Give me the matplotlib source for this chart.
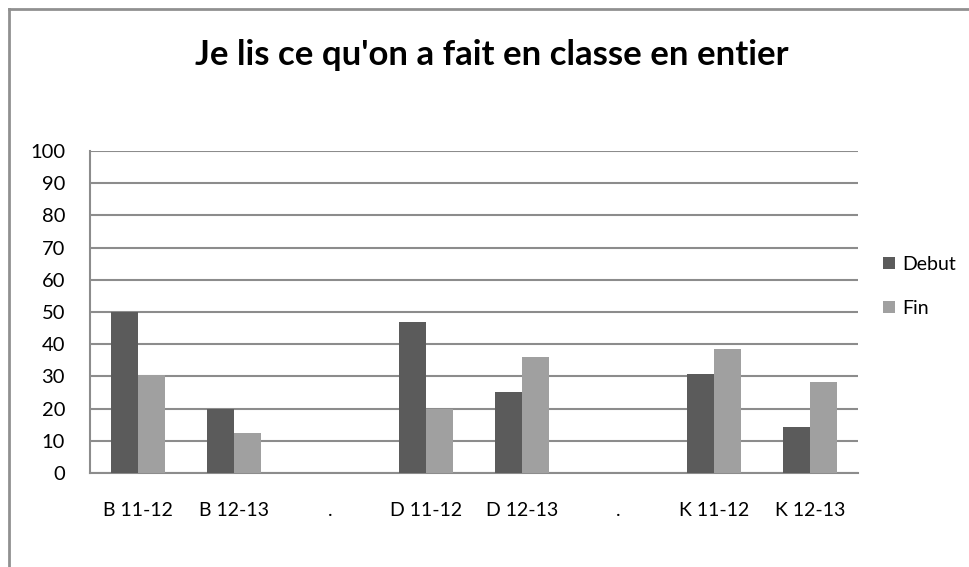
import numpy as np
import matplotlib
matplotlib.use('Agg')
import matplotlib.pyplot as plt
from matplotlib.lines import Line2D

plt.rcParams['font.family'] = ['Lato', 'DejaVu Sans']

# Data
categories = ['B 11-12', 'B 12-13', '.', 'D 11-12', 'D 12-13', '.', 'K 11-12', 'K 12-13']
debut = [50, 20, 0, 47, 25.3, 0, 30.6, 14.3]
fin = [30.4, 12.4, 0, 20, 36, 0, 38.4, 28.2]
yticks = list(range(0, 101, 10))

fig = plt.figure(figsize=(9.69, 5.67), dpi=100)
ax = fig.add_axes([0.0929, 0.1658, 0.7926, 0.568])

x = np.arange(len(categories))
w = 0.285
ax.bar(x - w/2, debut, w, color='#5b5b5b', label='Debut', zorder=3)
ax.bar(x + w/2, fin, w, color='#a0a0a0', label='Fin', zorder=3)

ax.set_xlim(-0.5, len(categories) - 0.5)
ax.set_ylim(0, 100)
ax.set_yticks(yticks)
ax.set_xticks(x)
ax.set_xticklabels(categories, fontsize=14)
ax.tick_params(axis='y', labelsize=14.5, length=0, pad=18)
ax.tick_params(axis='x', length=0, pad=21)
ax.yaxis.grid(True, color='#8c8c8c', linewidth=1.5, zorder=0)
for side in ['top', 'right']:
    ax.spines[side].set_visible(False)
ax.spines['left'].set_color('#8c8c8c')
ax.spines['bottom'].set_color('#8c8c8c')
ax.spines['left'].set_linewidth(1.5)
ax.spines['bottom'].set_linewidth(1.5)

fig.text(0.507, 0.903, "Je lis ce qu'on a fait en classe en entier",
         ha='center', va='center', fontsize=25, fontweight='bold')

ax.legend(loc='center left', bbox_to_anchor=(1.01, 0.58), frameon=False,
          fontsize=14, handlelength=0.6, handleheight=0.6, handletextpad=0.4,
          labelspacing=1.4)

# outer chart border
fig.add_artist(Line2D([9/969, 9/969], [0, 1 - 9/567], transform=fig.transFigure,
                      color='#909090', linewidth=2))
fig.add_artist(Line2D([9/969, 1], [1 - 9/567, 1 - 9/567], transform=fig.transFigure,
                      color='#909090', linewidth=2))

fig.savefig('out.png', dpi=100)
